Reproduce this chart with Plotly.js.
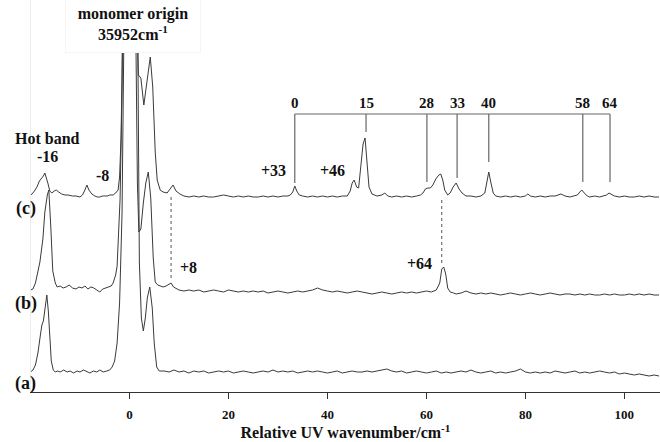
<!DOCTYPE html>
<html>
<head>
<meta charset="utf-8">
<script src="https://cdn.plot.ly/plotly-3.0.1.min.js"></script>
<style>html,body{margin:0;padding:0;background:#fff;}#chart{width:660px;height:442px;}</style>
</head>
<body>
<div id="chart"></div>
<script>
// ---- data (relative wavenumber / cm^-1 and intensity above each trace's baseline) ----
var xA = [-20,-19.5,-19,-18.5,-18,-17.7,-17.4,-17,-16.7,-16.4,-16.1,-15.8,-15.4,-15,-14.5,-14,-13.3,-12.6,-12,-11.3,-10.6,-10,-9.3,-8.6,-8,-7.3,-6.6,-6,-5.3,-4.6,-4,-3.5,-3,-2.5,-2,-1.5,-1,0.3,1.5,2,2.4,2.8,3.2,3.6,4.1,4.6,5,5.5,6,
  7,8,9,10,11,12,13,14,15,16,17,18,19,20,21,22,23,24,25,26,27,28,29,30,31,32,33,34,35,36,37,38,39,40,41,42,43,44,45,46,47,48,49,50,51,52,53,54,55,56,57,58,59,60,61,62,63,64,65,66,67,68,69,70,71,72,73,74,75,76,77,78,79,80,81,82,83,84,85,86,87,88,89,90,91,92,93,94,95,96,97,98,99,100,101,102,103,104,105,106,107];
var yA = [1,3,8,20,38,48,52,68,78,62,35,12,3,1,2,1,3,1,2,0,2,1,3,1,0,2,1,3,1,2,3,6,12,30,70,160,400,1300,400,110,55,42,55,75,86,65,30,6,2,
  2,1,3,1,2,0,2,1,2,0,1,2,1,2,0,1,2,1,0,1,2,1,3,1,2,1,2,0,1,2,1,2,1,0,1,2,0,1,2,1,1,2,1,2,3,4,2,1,2,0,1,2,1,0,1,2,0,1,0,1,2,1,3,1,0,1,2,0,1,0,1,2,4,1,0,1,0,1,0,2,1,0,1,2,0,1,0,1,2,1,0,1,-1,0,-1,-2,-1,-2,-3,-2,-3];

var xB = [-20,-19.5,-19,-18.5,-18.1,-17.5,-17.1,-16.6,-16.3,-15.9,-15.5,-15,-14.6,-14,-13.4,-12.8,-12.2,-11.5,-10.8,-10.2,-9.6,-9,-8.4,-7.8,-7.2,-6.6,-6,-5.4,-4.8,-4.2,-3.7,-3.3,-2.8,-2.5,-2.3,-1.9,-1.5,-1,0.3,1.2,1.6,1.9,2.3,2.8,3.3,3.8,4.3,4.8,5.2,5.7,6.2,6.8,7.4,8,8.4,8.9,9.5,
  10,11,12,13,14,15,16,17,18,19,20,21,22,23,24,25,26,27,28,29,30,31,32,33,34,35,36,37,38,39,40,41,42,43,44,45,46,47,48,49,50,51,52,53,54,55,56,57,58,59,60,61,62,62.7,63.1,63.5,63.9,64.3,64.8,65.5,66,67,68,69,70,71,72,73,74,75,76,77,78,79,80,81,82,83,84,85,86,87,88,89,90,91,92,93,94,95,96,97,98,99,100,101,102,103,104,105,106,107];
var yB = [3,4,10,20,31,54,81,98,103,66,22,10,6,7,5,6,8,5,4,6,5,7,4,6,5,3,1,4,5,6,7,10,18,27,51,94,200,450,1300,300,110,61,64,90,110,121,95,35,11,8,7,6,7,9,10,6,4,
  3,2,3,2,3,1,2,3,2,1,3,2,1,2,1,2,1,2,0,1,2,1,0,1,2,1,2,3,5,3,2,1,2,1,0,1,2,1,0,-1,0,1,0,-1,0,1,0,1,0,1,2,1,3,10,24,26,19,5,1,0,-1,0,2,0,-1,0,-1,0,-1,-2,-1,0,-1,-2,-1,0,-1,-2,-1,0,-1,-2,-1,-1,-2,-1,-2,-1,-2,-2,-1,-2,-1,-2,-2,-1,-2,-1,-2,-1,-2,-2];

var xC = [-20,-19.7,-19.2,-18.7,-18.2,-17.7,-17.4,-17.1,-16.8,-16.5,-16.1,-15.7,-15.2,-14.8,-14.3,-13.7,-13,-12.4,-11.5,-10.8,-10,-9.5,-9.1,-8.6,-8.2,-7.6,-7,-6.5,-6,-5.5,-5,-4.5,-4,-3.3,-2.8,-2.3,-2,-1.7,-1.4,-1,0.3,1.1,1.5,1.8,2.3,2.9,3.5,4.2,4.7,5.2,5.6,6.2,6.8,7.6,8.2,8.8,9.4,10.2,
  11,12,13,14,15,16,17,18,19,20,21,22,23,24,25,26,27,28,29,30,31,32,32.5,33,33.4,33.8,34.3,35,36,37,38,39,40,41,42,43,44,44.6,45,45.4,45.9,46.3,46.8,47.2,47.6,48,48.4,49,50,51,51.6,52.2,53,54,55,56,57,58,58.8,59.3,59.8,60.3,60.8,61.3,61.9,62.5,62.9,63.3,63.7,64.3,64.8,65.4,66,66.6,67.2,68,69,70,71,71.8,72.2,72.6,73,73.5,74,75,76,77,78,79,80,80.5,81,82,83,84,85,86,87.2,88,89,90,90.5,91,91.4,91.9,92.5,93,94,95,96,96.4,96.9,97.5,98,99,100,101,102,103,104,105,106,107];
var yC = [2,3,6,10,16,19,21,24,20,14,6,4,6,7,5,3,2,2,1,1,0,2,6,12,7,3,1,0,0,1,1,1,2,2,4,7,20,60,160,400,1300,400,180,122,119,92,115,140,110,45,17,7,5,4,8,12,6,3,
  1,0,1,0,1,0,0,1,2,1,0,1,0,1,0,0,1,0,1,0,1,1,2,5,11,6,2,1,0,1,0,1,0,1,0,1,1,6,14,17,10,9,32,53,59,35,10,3,1,2,4,1,0,1,0,1,0,1,2,4,8,9,9,12,18,22,23,17,7,2,4,10,14,8,4,1,1,0,1,4,14,25,15,4,1,0,1,0,1,0,1,3,1,0,1,0,1,1,3,1,0,1,2,5,7,4,1,0,1,0,1,2,4,2,1,0,1,0,0,1,0,1,0,0];

var traceNames = ['(a)', '(b)', '(c)'];
var offsets = [19, 99, 195];               // vertical stacking of the three spectra
var xTicks = [0, 20, 40, 60, 80, 100];

// progression bracket (labels and the wavenumbers they point to)
var progLabels = ['0', '15', '28', '33', '40', '58', '64'];
var progX = [33.4, 47.8, 60.1, 66.2, 72.6, 91.6, 97.1];
var progBottom = [209, 260, 210, 214, 230, 210, 210];

var xs = [xA, xB, xC], ys = [yA, yB, yC];
var traces = [];
for (var t = 0; t < 3; t++) {
  traces.push({
    x: xs[t],
    y: ys[t].map(function (v) { return v + offsets[t]; }),
    type: 'scatter', mode: 'lines', name: traceNames[t],
    line: {color: '#3a3a3a', width: 1}, hoverinfo: 'skip'
  });
}

var SERIF = 'Liberation Serif, Times New Roman, serif';
var shapes = [];
var bracketTop = 278;
shapes.push({type: 'line', xref: 'x', yref: 'y', x0: progX[0], x1: progX[progX.length - 1], y0: bracketTop, y1: bracketTop, line: {color: '#666', width: 1.2}});
for (var i = 0; i < progX.length; i++) {
  shapes.push({type: 'line', xref: 'x', yref: 'y', x0: progX[i], x1: progX[i], y0: bracketTop, y1: progBottom[i], line: {color: '#666', width: 1.2}});
}
shapes.push({type: 'line', xref: 'x', yref: 'y', x0: 8.4, x1: 8.4, y0: 195, y1: 114, line: {color: '#555', width: 1, dash: 'dot'}});
shapes.push({type: 'line', xref: 'x', yref: 'y', x0: 63.1, x1: 63.1, y0: 192, y1: 129, line: {color: '#555', width: 1, dash: 'dot'}});

function ann(text, x, y, size, extra) {
  var a = {text: text, x: x, y: y, xref: 'x', yref: 'y', showarrow: false,
    font: {family: SERIF, size: size, color: '#111', weight: 'bold'}, xanchor: 'center', yanchor: 'middle'};
  if (extra) for (var k in extra) a[k] = extra[k];
  return a;
}
var annotations = [];
annotations.push(ann('<b>monomer origin</b><br><b>35952cm<sup>-1</sup></b>', 0.7, 368, 16,
  {bgcolor: '#ffffff', bordercolor: '#f6f6f6', borderwidth: 1, width: 132, height: 54}));
annotations.push(ann('<b>Hot band</b>', -16.6, 254, 16));
annotations.push(ann('<b>-16</b>', -16.6, 236, 16));
annotations.push(ann('<b>-8</b>', -5.5, 217, 16));
annotations.push(ann('<b>+33</b>', 29.0, 222, 16));
annotations.push(ann('<b>+46</b>', 41.1, 222, 16));
annotations.push(ann('<b>+8</b>', 12.0, 125, 16));
annotations.push(ann('<b>+64</b>', 58.7, 129, 16));
for (var j = 0; j < progLabels.length; j++) {
  annotations.push(ann('<b>' + progLabels[j] + '</b>', progX[j], 289, 15));
}
var labelY = [9, 89, 184];
for (var k2 = 0; k2 < 3; k2++) {
  annotations.push(ann('<b>' + traceNames[k2] + '</b>', -0.008, labelY[k2], 18, {xref: 'paper'}));
}

var layout = {
  width: 660, height: 442,
  margin: {l: 31, r: 0, t: 0, b: 50},
  paper_bgcolor: '#fff', plot_bgcolor: '#fff',
  showlegend: false,
  xaxis: {
    range: [-19.9, 107.2], tickvals: xTicks, ticktext: xTicks.map(String),
    showgrid: false, zeroline: false, showline: true, linecolor: '#333', linewidth: 1,
    ticks: 'outside', ticklen: 6, tickwidth: 1, tickcolor: '#333', ticklabelstandoff: 4,
    tickfont: {family: SERIF, size: 13, color: '#111', weight: 'bold'},
    title: {text: '<b>Relative UV wavenumber/cm<sup>-1</sup></b>', font: {family: SERIF, size: 16, color: '#111'}, standoff: 4}
  },
  yaxis: {
    range: [0, 392], showgrid: false, zeroline: false, showticklabels: false, ticks: '',
    showline: true, linecolor: '#ececec', linewidth: 1
  },
  shapes: shapes,
  annotations: annotations
};
Plotly.newPlot('chart', traces, layout, {staticPlot: true, displayModeBar: false});
</script>
</body>
</html>
